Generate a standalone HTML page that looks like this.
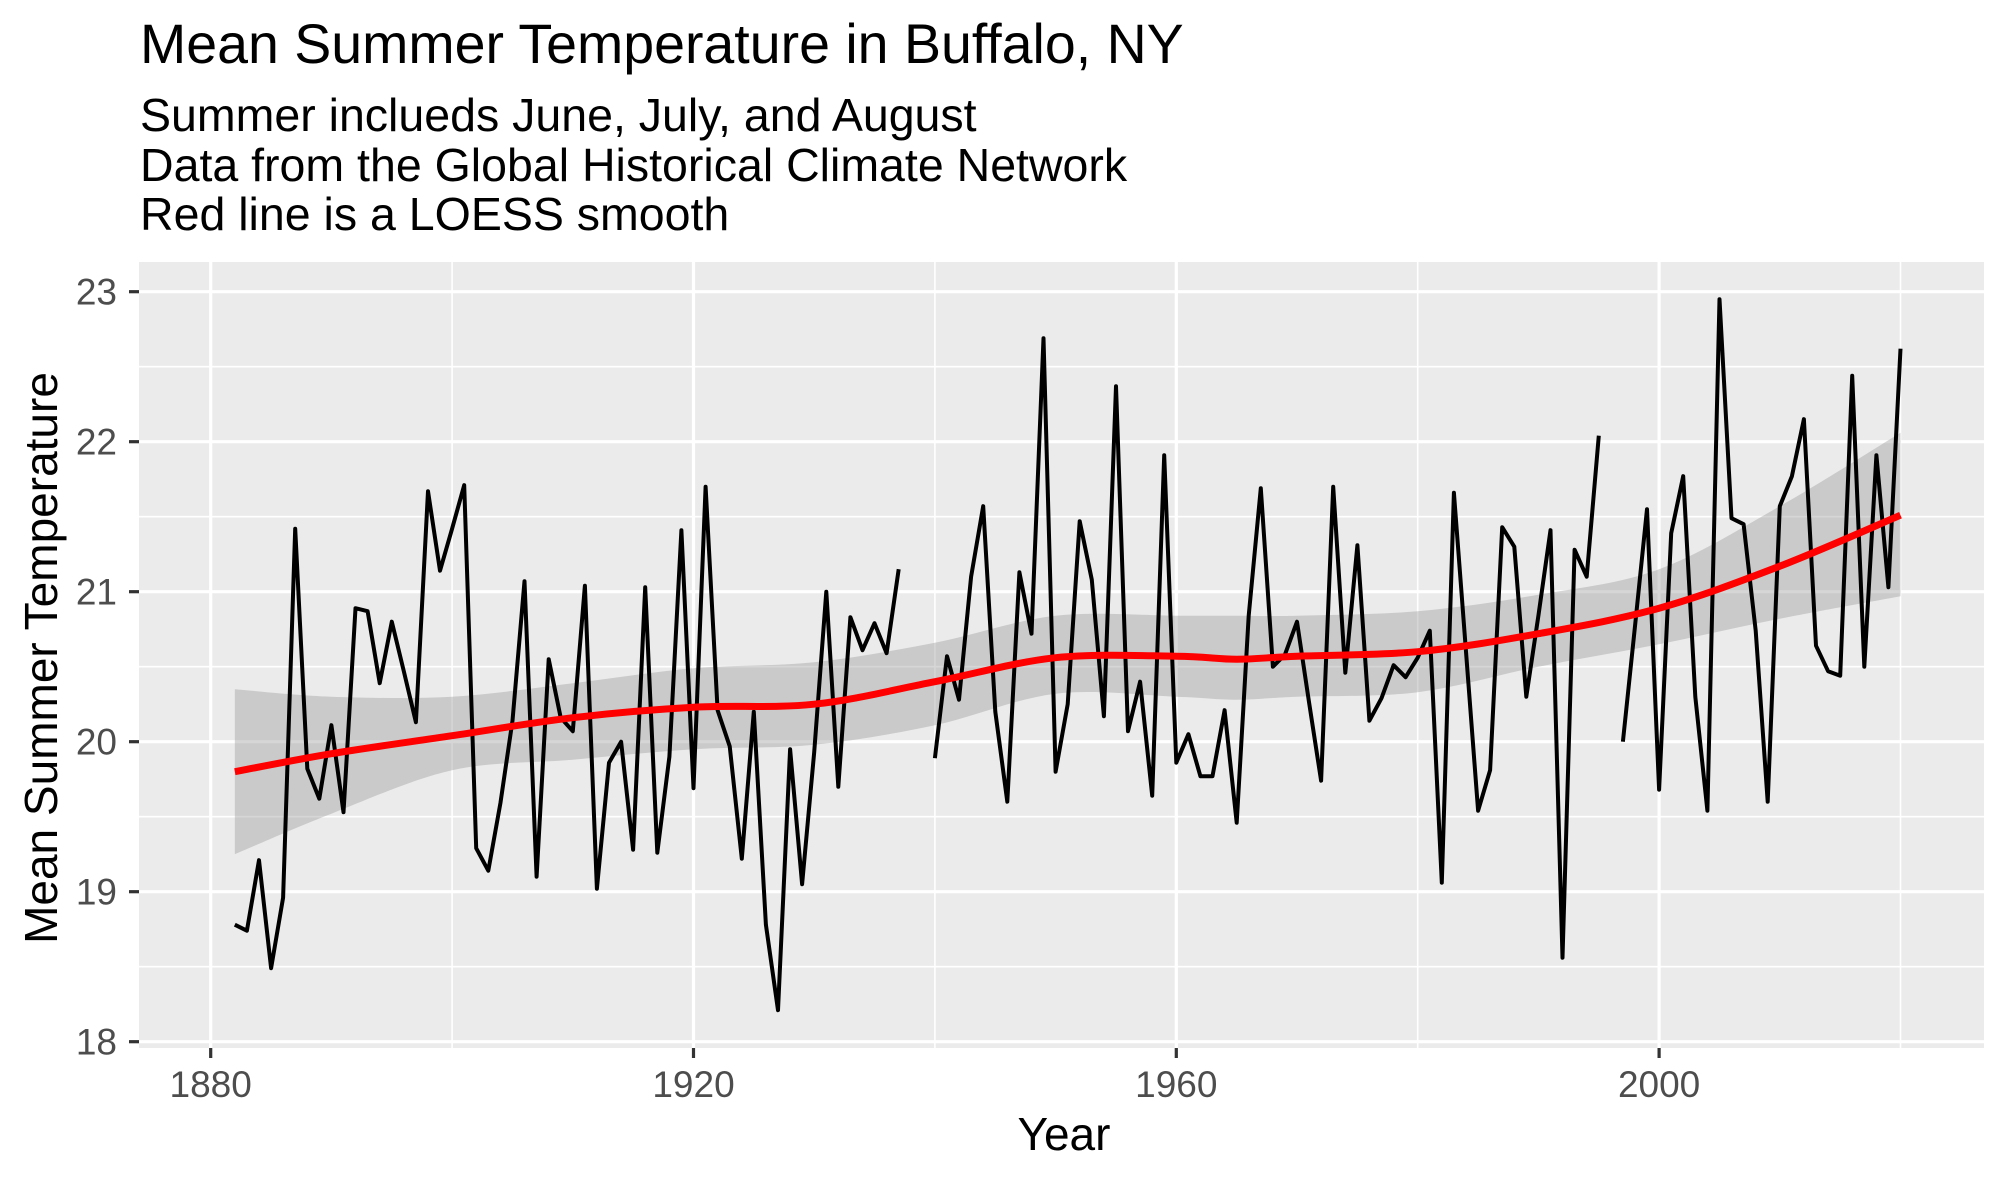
<!DOCTYPE html>
<html><head><meta charset="utf-8"><style>
html,body{margin:0;padding:0;background:#fff;}
svg{display:block;font-family:"Liberation Sans",Arial,sans-serif;}
</style></head><body>
<svg id="chart" width="2007" height="1181" viewBox="0 0 2007 1181">
<text x="140" y="63" font-size="55.5" fill="#000">Mean Summer Temperature in Buffalo, NY</text>
<g font-size="46.5" fill="#000">
<text x="140" y="131">Summer inclueds June, July, and August</text>
<text x="140" y="181">Data from the Global Historical Climate Network</text>
<text x="140" y="230">Red line is a LOESS smooth</text>
</g>
<rect x="139" y="262" width="1845" height="786" fill="#EBEBEB"/>
<g id="grid"></g>
<g id="marks"></g>
<g id="axes"></g>
<text x="1064" y="1150" font-size="46" text-anchor="middle" fill="#000">Year</text>
<text transform="translate(57,658) rotate(-90)" font-size="46" text-anchor="middle" fill="#000">Mean Summer Temperature</text>
</svg>
<script>
const years = [];
for (let y = 1882; y <= 2020; y++) years.push(y);
const temps = [18.78,18.74,19.21,18.49,18.96,21.42,19.82,19.62,20.11,19.53,20.89,20.87,20.39,20.80,20.47,20.13,21.67,21.14,21.42,21.71,
19.29,19.14,19.59,20.14,21.07,19.10,20.55,20.16,20.07,21.04,19.02,19.86,20.00,19.28,21.03,19.26,19.90,21.41,19.69,21.70,
20.21,19.97,19.22,20.20,18.78,18.21,19.95,19.05,19.93,21.00,19.70,20.83,20.61,20.79,20.59,21.15,null,null,19.89,20.57,
20.28,21.10,21.57,20.20,19.60,21.13,20.72,22.69,19.80,20.25,21.47,21.08,20.17,22.37,20.07,20.40,19.64,21.91,19.86,20.05,
19.77,19.77,20.21,19.46,20.84,21.69,20.50,20.58,20.80,20.26,19.74,21.70,20.46,21.31,20.14,20.29,20.51,20.43,20.56,20.74,
19.06,21.66,20.60,19.54,19.81,21.43,21.30,20.30,20.84,21.41,18.56,21.28,21.10,22.04,null,20.00,20.77,21.55,19.68,21.39,
21.77,20.30,19.54,22.95,21.49,21.45,20.74,19.60,21.57,21.77,22.15,20.64,20.47,20.44,22.44,20.50,21.91,21.03,22.62];
const smoothYears = [1882,1890,1900,1910,1920,1930,1940,1950,1960,1965,1970,1980,1990,2000,2010,2020];
const smoothFit   = [19.80,19.92,20.04,20.16,20.23,20.25,20.40,20.56,20.57,20.55,20.57,20.60,20.72,20.89,21.17,21.51];
const smoothUpper = [20.35,20.30,20.30,20.39,20.49,20.53,20.66,20.84,20.84,20.84,20.84,20.87,20.98,21.15,21.57,22.06];
const smoothLower = [19.25,19.52,19.81,19.88,19.95,19.98,20.11,20.32,20.30,20.28,20.30,20.33,20.50,20.65,20.82,20.97];
const xTicks = [1880,1920,1960,2000];
const xMinor = [1900,1940,1980,2020];
const yTicks = [18,19,20,21,22,23];
const yMinor = [18.5,19.5,20.5,21.5,22.5];

const NS = "http://www.w3.org/2000/svg";
const X = yr => 210.7 + (yr - 1880) * 12.07;
const Y = v => 291.7 + (23 - v) * 150;
const PL = 139, PR = 1984, PT = 262, PB = 1048;
function mk(tag, attrs, parent) {
  const e = document.createElementNS(NS, tag);
  for (const k in attrs) e.setAttribute(k, attrs[k]);
  parent.appendChild(e);
  return e;
}
function curve(pts, start) {
  let d = (start ? 'M' : 'L') + pts[0][0] + ',' + pts[0][1];
  for (let i = 0; i < pts.length - 1; i++) {
    const p0 = pts[Math.max(0, i - 1)], p1 = pts[i], p2 = pts[i + 1], p3 = pts[Math.min(pts.length - 1, i + 2)];
    const c1x = p1[0] + (p2[0] - p0[0]) / 6, c1y = p1[1] + (p2[1] - p0[1]) / 6;
    const c2x = p2[0] - (p3[0] - p1[0]) / 6, c2y = p2[1] - (p3[1] - p1[1]) / 6;
    d += ' C' + c1x + ',' + c1y + ' ' + c2x + ',' + c2y + ' ' + p2[0] + ',' + p2[1];
  }
  return d;
}
const grid = document.getElementById('grid');
const marks = document.getElementById('marks');
const axes = document.getElementById('axes');

yMinor.forEach(v => {
  const l = mk('line', {x1: PL, x2: PR, y1: Y(v), y2: Y(v), stroke: '#fff', 'stroke-width': 1.6}, grid);
  
  
});
xMinor.forEach(v => {
  const l = mk('line', {x1: X(v), x2: X(v), y1: PT, y2: PB, stroke: '#fff', 'stroke-width': 1.6}, grid);
  
  
});
yTicks.forEach(v => {
  const l = mk('line', {x1: PL, x2: PR, y1: Y(v), y2: Y(v), stroke: '#fff', 'stroke-width': 3.2}, grid);
  
  
  const t = mk('line', {x1: PL - 10, x2: PL, y1: Y(v), y2: Y(v), stroke: '#333', 'stroke-width': 3.2}, axes);
  
  
  const lb = mk('text', {x: 117, y: Y(v) + 13, 'font-size': 37, fill: '#4D4D4D', 'text-anchor': 'end'}, axes);
  lb.textContent = v;
  
  
});
xTicks.forEach(v => {
  const l = mk('line', {x1: X(v), x2: X(v), y1: PT, y2: PB, stroke: '#fff', 'stroke-width': 3.2}, grid);
  
  
  const t = mk('line', {x1: X(v), x2: X(v), y1: PB, y2: PB + 10, stroke: '#333', 'stroke-width': 3.2}, axes);
  
  
  const lb = mk('text', {x: X(v), y: 1097, 'font-size': 37, fill: '#4D4D4D', 'text-anchor': 'middle'}, axes);
  lb.textContent = v;
  
  
});

// confidence ribbon
const up = smoothYears.map((yr, i) => [X(yr), Y(smoothUpper[i])]);
const lo = smoothYears.map((yr, i) => [X(yr), Y(smoothLower[i])]).reverse();
const rib = mk('path', {d: curve(up, true) + ' ' + curve(lo, false) + ' Z', fill: '#999', 'fill-opacity': 0.4}, marks);



// temperature line with gaps
let d = '', pen = false;
years.forEach((yr, i) => {
  const v = temps[i];
  if (v === null) { pen = false; return; }
  d += (pen ? 'L' : 'M') + X(yr).toFixed(1) + ',' + Y(v).toFixed(1) + ' ';
  pen = true;
});
const tl = mk('path', {d: d, fill: 'none', stroke: '#000', 'stroke-width': 4, 'stroke-linejoin': 'round'}, marks);



// loess line
const fit = smoothYears.map((yr, i) => [X(yr), Y(smoothFit[i])]);
const ll = mk('path', {d: curve(fit, true), fill: 'none', stroke: '#FF0000', 'stroke-width': 7, 'stroke-linejoin': 'round'}, marks);


</script>
</body></html>
